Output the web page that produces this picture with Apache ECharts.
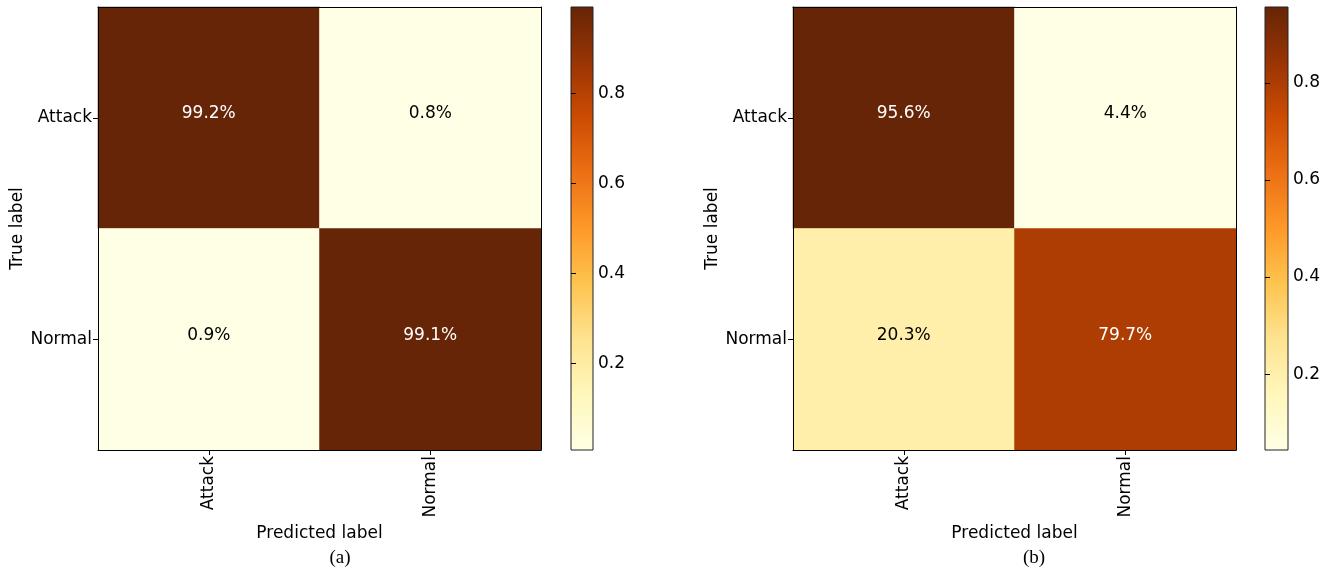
<!DOCTYPE html>
<html>
<head>
<meta charset="utf-8">
<script src="https://cdn.jsdelivr.net/npm/echarts@6/dist/echarts.min.js"></script>
<style>
  html, body { margin: 0; padding: 0; background: #ffffff; }
  #chart { width: 1334px; height: 574px; }
</style>
</head>
<body>
<div id="chart"></div>
<script>
// Class labels shared by both confusion matrices
const categories = ['Attack', 'Normal'];
// Row-normalised confusion matrices: rows = true label, columns = predicted label
const matrixA = [[0.992, 0.008], [0.009, 0.991]];
const matrixB = [[0.956, 0.044], [0.203, 0.797]];
// Colour-bar tick values
const colorbarTicks = [0.2, 0.4, 0.6, 0.8];
// Panel captions
const captions = ['(a)', '(b)'];

// YlOrBr colour map stops
const YLORBR = ['#ffffe5', '#fff7bc', '#fee391', '#fec44f', '#fe9929', '#ec7014', '#cc4c02', '#993404', '#662506'];
const FONT = 'DejaVu Sans';
const FS = 17;

const chart = echarts.init(document.getElementById('chart'), null, { renderer: 'canvas' });

function flatRange(m) {
  const v = m.flat();
  return [Math.min(...v), Math.max(...v)];
}

const panels = [
  { m: matrixA, left: 98, cbLeft: 571, cbWidth: 22, capX: 340 },
  { m: matrixB, left: 793, cbLeft: 1265, cbWidth: 23, capX: 1034 }
];
const plotW = 443, plotTop = 7, plotH = 443;

const grid = [], xAxis = [], yAxis = [], series = [], visualMap = [], graphic = [];

panels.forEach((p, i) => {
  const [lo, hi] = flatRange(p.m);
  const mid = (lo + hi) / 2;
  const gMat = grid.length;
  grid.push({ left: p.left, top: plotTop, width: plotW, height: plotH, containLabel: false });
  const gBar = grid.length;
  grid.push({ left: p.cbLeft, top: plotTop, width: p.cbWidth, height: plotH, containLabel: false });

  // Matrix axes
  const xIdx = xAxis.length;
  xAxis.push({
    gridIndex: gMat, type: 'category', data: categories, position: 'bottom', z: 10,
    name: 'Predicted label', nameLocation: 'middle', nameGap: 70,
    nameTextStyle: { fontFamily: FONT, fontSize: FS, color: '#000' },
    axisLine: { show: true, lineStyle: { color: '#000', width: 1 } },
    axisTick: { show: true, alignWithLabel: true, length: 5, lineStyle: { color: '#000' } },
    axisLabel: { rotate: 90, fontFamily: FONT, fontSize: FS, color: '#000', margin: 6 },
    splitLine: { show: false }
  });
  xAxis.push({
    gridIndex: gMat, type: 'category', data: categories, position: 'top', z: 10,
    axisLine: { show: true, lineStyle: { color: '#000', width: 1 } },
    axisTick: { show: false }, axisLabel: { show: false }, splitLine: { show: false }
  });
  const yIdx = yAxis.length;
  yAxis.push({
    gridIndex: gMat, type: 'category', data: categories, inverse: true, position: 'left', z: 10,
    name: 'True label', nameLocation: 'middle', nameGap: 72, nameRotate: 90,
    nameTextStyle: { fontFamily: FONT, fontSize: FS, color: '#000' },
    axisLine: { show: true, lineStyle: { color: '#000', width: 1 } },
    axisTick: { show: true, alignWithLabel: true, length: 5, lineStyle: { color: '#000' } },
    axisLabel: { fontFamily: FONT, fontSize: FS, color: '#000', margin: 6, padding: [8, 0, 0, 0] },
    splitLine: { show: false }
  });
  yAxis.push({
    gridIndex: gMat, type: 'category', data: categories, inverse: true, position: 'right', z: 10,
    axisLine: { show: true, lineStyle: { color: '#000', width: 1 } },
    axisTick: { show: false }, axisLabel: { show: false }, splitLine: { show: false }
  });

  const cells = [];
  p.m.forEach((row, r) => row.forEach((v, c) => {
    cells.push({
      value: [c, r, v],
      label: { color: v > mid ? '#ffffff' : '#000000' }
    });
  }));
  const sIdx = series.length;
  series.push({
    type: 'heatmap', xAxisIndex: xIdx, yAxisIndex: yIdx, data: cells,
    label: {
      show: true, fontFamily: FONT, fontSize: FS, offset: [0, -4],
      formatter: (d) => (d.value[2] * 100).toFixed(1) + '%'
    },
    itemStyle: { borderWidth: 0 },
    emphasis: { disabled: true }
  });
  visualMap.push({
    type: 'continuous', show: false, seriesIndex: sIdx, dimension: 2,
    min: lo, max: hi, inRange: { color: YLORBR }
  });

  // Colour bar axes
  const xbIdx = xAxis.length;
  xAxis.push({
    gridIndex: gBar, type: 'value', min: 0, max: 1, show: false
  });
  const ybIdx = yAxis.length;
  yAxis.push({
    gridIndex: gBar, type: 'value', min: lo, max: hi, position: 'right', z: 10,
    axisLine: { show: false },
    axisTick: { show: true, length: 5, lineStyle: { color: '#000' }, customValues: colorbarTicks },
    axisLabel: {
      fontFamily: FONT, fontSize: FS, color: '#000', margin: 5, padding: [6, 0, 0, 0],
      customValues: colorbarTicks, formatter: (v) => v.toFixed(1)
    },
    splitLine: { show: false }
  });
  series.push({
    type: 'custom', xAxisIndex: xbIdx, yAxisIndex: ybIdx, silent: true,
    data: [[0, 1, lo, hi]],
    renderItem: (params, api) => {
      const p0 = api.coord([api.value(0), api.value(3)]);
      const p1 = api.coord([api.value(1), api.value(2)]);
      // gradient runs from the darkest colour at the top to the lightest at the bottom
      const stops = YLORBR.slice().reverse()
        .map((c, k) => ({ offset: k / (YLORBR.length - 1), color: c }));
      return {
        type: 'rect',
        shape: { x: p0[0], y: p0[1], width: p1[0] - p0[0], height: p1[1] - p0[1] },
        style: {
          fill: new echarts.graphic.LinearGradient(0, 0, 0, 1, stops),
          stroke: '#222', lineWidth: 1
        }
      };
    }
  });

  graphic.push({
    type: 'text', x: p.capX, y: 558,
    style: {
      text: captions[i], fontFamily: 'Liberation Serif', fontSize: 19, fill: '#000',
      align: 'center', verticalAlign: 'middle'
    }
  });
});

chart.setOption({
  animation: false,
  backgroundColor: '#ffffff',
  grid, xAxis, yAxis, series, visualMap, graphic
});
</script>
</body>
</html>
